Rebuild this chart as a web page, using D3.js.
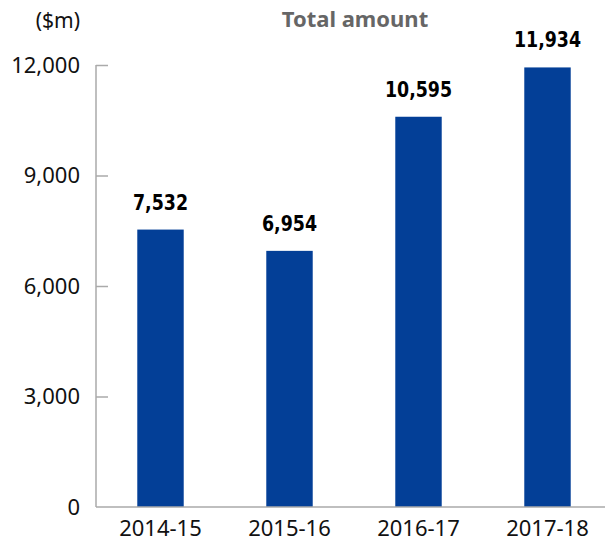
<!DOCTYPE html>
<html>
<head>
<meta charset="utf-8">
<script src="https://cdnjs.cloudflare.com/ajax/libs/d3/7.8.5/d3.min.js"></script>
<style>
  body { margin: 0; background: #fff; }
  svg { display: block; }
</style>
</head>
<body>
<div id="chart"></div>
<script>
// chart data
const years = ["2014-15", "2015-16", "2016-17", "2017-18"];
const amounts = [7532, 6954, 10595, 11934];
const yTicks = [0, 3000, 6000, 9000, 12000];

const width = 605;
const height = 544;
const plotLeft = 96, plotRight = 612, plotTop = 65, plotBottom = 507;

const svg = d3.select("#chart")
  .append("svg")
  .attr("width", width)
  .attr("height", height);

const x = d3.scaleBand()
  .domain(years)
  .range([plotLeft, plotRight])
  .paddingInner(0.64)
  .paddingOuter(0.32);

const y = d3.scaleLinear()
  .domain([0, 12000])
  .range([plotBottom, plotTop]);

const fmt = d3.format(",");
const font = "'Noto Sans', 'Open Sans', sans-serif";

// y axis
const yAxis = svg.append("g")
  .attr("transform", "translate(" + plotLeft + ",0)")
  .call(d3.axisRight(y).tickValues(yTicks).tickSize(12).tickFormat(""));
yAxis.select(".domain").attr("stroke", "#aaa").attr("stroke-width", 1.5)
  .attr("d", "M0," + plotTop + "V" + plotBottom);
yAxis.selectAll(".tick line").attr("stroke", "#aaa").attr("stroke-width", 1.5);
yAxis.selectAll(".tick").filter(d => d === 0).remove();

svg.append("g")
  .selectAll("text")
  .data(yTicks)
  .enter()
  .append("text")
  .attr("x", 80)
  .attr("y", d => y(d))
  .attr("dy", "0.35em")
  .attr("text-anchor", "end")
  .style("font-family", font)
  .style("font-size", "22px")
  .attr("fill", "#111")
  .text(d => fmt(d));

// bars
svg.selectAll(".bar")
  .data(amounts)
  .enter()
  .append("rect")
  .attr("class", "bar")
  .attr("x", (d, i) => x(years[i]))
  .attr("y", d => y(d))
  .attr("width", x.bandwidth())
  .attr("height", d => y(0) - y(d))
  .attr("fill", "#033f97");

// baseline
svg.append("line")
  .attr("x1", plotLeft).attr("x2", width)
  .attr("y1", plotBottom).attr("y2", plotBottom)
  .attr("stroke", "#aaa").attr("stroke-width", 1.5);

// value labels (condensed look)
svg.selectAll(".val")
  .data(amounts)
  .enter()
  .append("text")
  .attr("class", "val")
  .attr("transform", (d, i) =>
    "translate(" + (x(years[i]) + x.bandwidth() / 2) + "," + (y(d) - 20) + ") scale(0.88,1)")
  .attr("text-anchor", "middle")
  .style("font-family", "'DejaVu Sans Condensed', sans-serif")
  .style("font-weight", "bold")
  .style("font-size", "22px")
  .attr("fill", "#000")
  .text(d => fmt(d));

// category labels
const xAxis = svg.append("g")
  .attr("transform", "translate(0," + plotBottom + ")")
  .call(d3.axisBottom(x).tickSize(0).tickPadding(13));
xAxis.select(".domain").remove();
xAxis.selectAll("text")
  .style("font-family", font)
  .style("font-size", "22px")
  .attr("fill", "#111");

// title and unit
svg.append("text")
  .attr("x", 355).attr("y", 27)
  .attr("text-anchor", "middle")
  .style("font-family", font)
  .style("font-weight", "bold")
  .style("font-size", "22px")
  .attr("fill", "#666")
  .text("Total amount");

svg.append("text")
  .attr("x", 80).attr("y", 28)
  .attr("text-anchor", "end")
  .style("font-family", font)
  .style("font-size", "21px")
  .attr("fill", "#111")
  .text("($m)");
</script>
</body>
</html>
